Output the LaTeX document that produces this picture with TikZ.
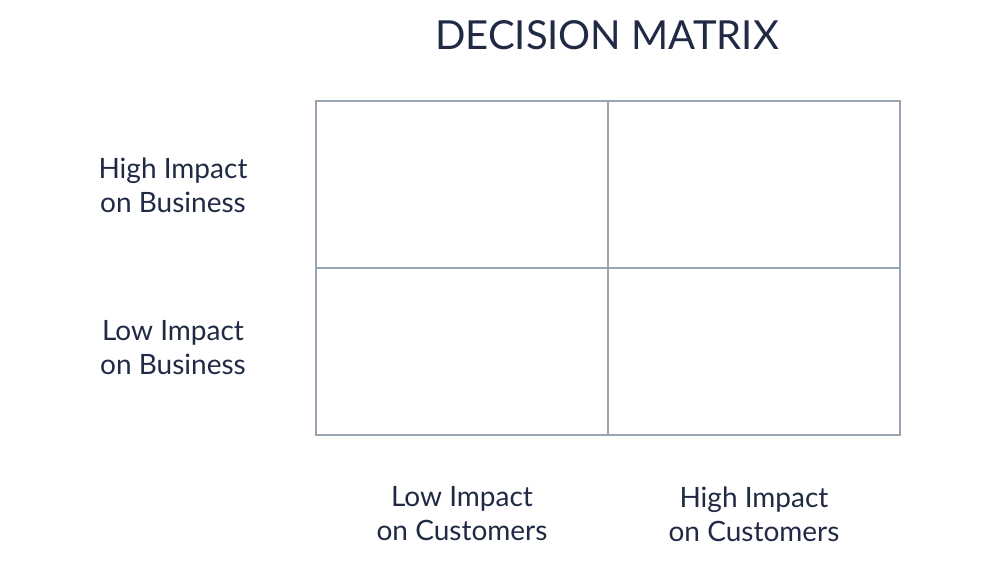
\documentclass[tikz,border=0pt]{standalone}
\usepackage{fontspec}
\setmainfont{Lato}
\usepackage{xcolor}
\usetikzlibrary{positioning}

\definecolor{inkblue}{RGB}{32,42,68}
\definecolor{gridgray}{RGB}{154,165,180}

\tikzset{
  cell/.style={draw=gridgray, line width=1.5pt, minimum width=219pt, minimum height=125.25pt, inner sep=0pt},
  axislabel/.style={text=inkblue, font=\fontsize{21}{25.5}\selectfont, align=center, inner sep=0.75pt}
}

\begin{document}
\begin{tikzpicture}[x=0.75pt,y=0.75pt,yscale=-1,xscale=1]
\useasboundingbox (0,0) rectangle (1000,563);

% Title
\node [text=inkblue, font=\fontsize{30}{36}\selectfont] (title) at (607,35) {DECISION MATRIX};

% Matrix cells
\node [cell] (hl) at (462,184.5) {};
\node [cell] (hh) at (754,184.5) {};
\node [cell] (ll) at (462,351) {};
\node [cell] (lh) at (754,351) {};

% Row labels
\node [axislabel] (highbiz) at (173,185) {High Impact\\on Business};
\node [axislabel] (lowbiz) at (173,348) {Low Impact\\on Business};

% Column labels
\node [axislabel] (lowcust) at (462,514) {Low Impact\\on Customers};
\node [axislabel] (highcust) at (754,514) {High Impact\\on Customers};

\end{tikzpicture}
\end{document}
